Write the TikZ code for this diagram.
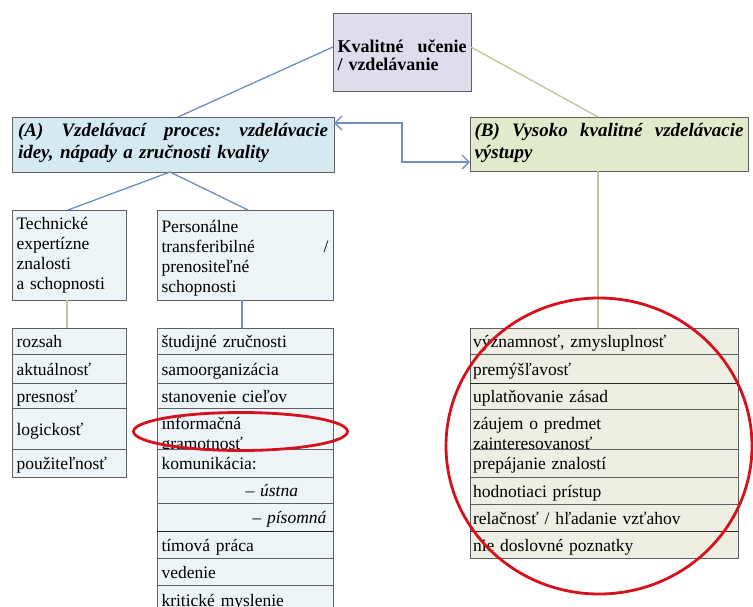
\documentclass[tikz,border=0pt]{standalone}
\usepackage{fontspec}
\setmainfont{Liberation Serif}
\usetikzlibrary{arrows.meta}

\definecolor{boxline}{RGB}{95,95,95}
\definecolor{topfill}{RGB}{224,220,236}
\definecolor{afill}{RGB}{212,234,240}
\definecolor{bfill}{RGB}{226,234,204}
\definecolor{rowblue}{RGB}{236,244,248}
\definecolor{rowgreen}{RGB}{236,239,226}
\definecolor{linkblue}{RGB}{112,142,190}
\definecolor{linkolive}{RGB}{192,194,156}
\definecolor{ringred}{RGB}{212,18,30}

% a line spread to a given width
\newcommand{\spreadline}[2]{\hbox to #1{#2}}

\tikzset{
  base/.style={draw=boxline, line width=0.8pt, anchor=north west, outer sep=0pt,
    inner ysep=0pt, align=left, font=\fontsize{17.5}{20}\selectfont,
    text height=15pt, text depth=2pt},
  twolines/.style={text depth=14pt},
  headbox/.style={base, font=\bfseries\itshape\fontsize{19}{22}\selectfont},
  lrow/.style={base, fill=rowblue, text width=105pt, inner xsep=4.5pt},
  prow/.style={base, fill=rowblue, text width=167pt, inner xsep=4.5pt},
  brow/.style={base, fill=rowgreen, text width=262pt, inner xsep=3pt},
  bluelink/.style={draw=linkblue, line width=1.3pt},
  olivelink/.style={draw=linkolive, line width=1.3pt},
  sepline/.style={draw=black!85, line width=1pt},
  redring/.style={draw=ringred, line width=2.8pt}
}

\begin{document}
\begin{tikzpicture}[x=1pt, y=-1pt]
\clip (0,0) rectangle (753,606);
\fill[white] (0,0) rectangle (753,606);

% top level
\node[base, fill=topfill, text width=129pt, inner xsep=4.5pt, minimum height=78pt,
  text depth=15pt, font=\bfseries\fontsize{18}{18}\selectfont] (top) at (333,13)
  {\spreadline{129pt}{Kvalitné\hfill učenie}\\/ vzdelávanie};

% the two branches
\node[headbox, fill=afill, text width=310pt, inner xsep=6pt, minimum height=55pt,
  text depth=31pt] (A) at (12,117)
  {\spreadline{310pt}{(A)\hfill Vzdelávací\hfill proces:\hfill vzdelávacie}\\idey, nápady a zručnosti kvality};
\node[headbox, fill=bfill, text width=269pt, inner xsep=4.5pt, minimum height=54pt,
  text depth=30pt] (B) at (470,117)
  {\spreadline{269pt}{(B)\hfill Vysoko\hfill kvalitné\hfill vzdelávacie}\\výstupy};

% sub-branches of A
\node[lrow, minimum height=90pt, text depth=67pt] (tech) at (12,210)
  {Technické\\expertízne\\znalosti\\a schopnosti};
\node[prow, minimum height=90pt, text depth=60pt] (pers) at (157,210)
  {Personálne\\transferibilné\hfill/\\prenositeľné\\schopnosti};

% technical list
\node[lrow, minimum height=26pt] (l1) at (12,328) {rozsah};
\node[lrow, minimum height=29pt] (l2) at (12,354) {aktuálnosť};
\node[lrow, minimum height=25pt] (l3) at (12,383) {presnosť};
\node[lrow, minimum height=41pt] (l4) at (12,408) {logickosť};
\node[lrow, minimum height=28pt] (l5) at (12,449) {použiteľnosť};

% personal list
\node[prow, minimum height=26pt] (p1) at (157,328) {študijné zručnosti};
\node[prow, minimum height=29pt] (p2) at (157,354) {samoorganizácia};
\node[prow, minimum height=25pt] (p3) at (157,383) {stanovenie cieľov};
\node[prow, twolines, minimum height=41pt] (p4) at (157,408) {informačná\\gramotnosť};
\node[prow, minimum height=28pt] (p5) at (157,449) {komunikácia:};
\node[prow, minimum height=26pt] (p6) at (157,477) {\hspace*{84pt}\mbox{– \textit{ústna}}};
\node[prow, minimum height=28pt] (p7) at (157,503) {\hspace*{91pt}\mbox{– \textit{písomná}}};
\node[prow, minimum height=27pt] (p8) at (157,531) {tímová práca};
\node[prow, minimum height=27pt] (p9) at (157,558) {vedenie};
\node[prow, minimum height=30pt] (p10) at (157,585) {kritické myslenie};

% outcome list
\node[brow, minimum height=26pt] (b1) at (470,328) {významnosť, zmysluplnosť};
\node[brow, minimum height=29pt] (b2) at (470,354) {premýšľavosť};
\node[brow, minimum height=26pt] (b3) at (470,383) {uplatňovanie zásad};
\node[brow, twolines, minimum height=40pt] (b4) at (470,409) {záujem o predmet\\zainteresovanosť};
\node[brow, minimum height=28pt] (b5) at (470,449) {prepájanie znalostí};
\node[brow, minimum height=27pt] (b6) at (470,477) {hodnotiaci prístup};
\node[brow, minimum height=27pt] (b7) at (470,504) {relačnosť / hľadanie vzťahov};
\node[brow, minimum height=27pt] (b8) at (470,531) {nie doslovné poznatky};

% heavier separators
\draw[sepline] (p8.north west) -- (p8.north east);
\draw[sepline] (b3.north west) -- (b3.north east);
\draw[sepline] (b8.north west) -- (b8.north east);

% connectors
\draw[bluelink] ([yshift=5pt]top.west) -- ([xshift=5pt]A.north);
\draw[olivelink] ([yshift=5pt]top.east) -- ([xshift=-11pt]B.north);
\draw[bluelink] ([xshift=-3pt]A.south) -- ([xshift=-1pt]tech.north);
\draw[bluelink] ([xshift=-3pt]A.south) -- ([xshift=3pt]pers.north);
\draw[olivelink] ([xshift=-2pt]tech.south) -- ([xshift=-2pt]l1.north);
\draw[bluelink] ([xshift=-3pt]pers.south) -- ([xshift=-3pt]p1.north);
\draw[olivelink] ([xshift=-11pt]B.south) -- ([xshift=-6pt]b1.north);
\draw[bluelink, {Straight Barb[length=7pt, width=14pt]}-{Straight Barb[length=7pt, width=14pt]}]
  ([yshift=-6pt]A.north east) -- ++(68,0) |- ([yshift=9pt]B.south west);

% highlight rings
\draw[redring] (240.5,431.5) ellipse [x radius=107, y radius=19];
\draw[redring] (599,446) ellipse [x radius=153, y radius=148];
\end{tikzpicture}
\end{document}
